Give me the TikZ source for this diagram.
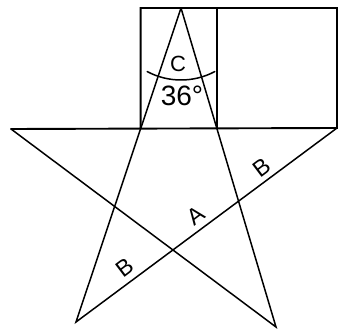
\documentclass[tikz,border=0pt]{standalone}
\usepackage{fontspec}
\setmainfont{Liberation Sans}

\begin{document}
\begin{tikzpicture}[x=1pt, y=-1pt,
    starline/.style={line width=1.5pt, line cap=round},
    boxline/.style={line width=1.9pt, line cap=round},
    marklabel/.style={font=\fontsize{22}{22}\selectfont, inner sep=0pt},
    sidelabel/.style={font=\fontsize{23}{23}\selectfont, inner sep=0pt, rotate=37}
]
\useasboundingbox (0,0) rectangle (340,331);

% points of the star
\coordinate (apex) at (181,8);
\coordinate (left) at (11,129);
\coordinate (right) at (337,128);
\coordinate (botl) at (76,322);
\coordinate (botr) at (276,327);
\coordinate (cutl) at (intersection of apex--botl and left--right);
\coordinate (cutr) at (intersection of apex--botr and left--right);

\node[marklabel] (angc) at (178,64) {C};
\node[marklabel, font=\fontsize{28}{28}\selectfont] (angval) at (182,96) {36°};
\node[sidelabel] (sideb1) at (262,168) {B};
\node[sidelabel] (sidea) at (196,216) {A};
\node[sidelabel] (sideb2) at (125,268) {B};

\draw[starline] (apex) -- (botl) -- (right);
\draw[starline] (left) -- (botr) -- (apex);
\draw[boxline] (left) -- (right) -- (right |- apex) -- (cutl |- apex) -- (cutl);
\draw[boxline] (cutr |- apex) -- (cutr);
\draw[starline] (apex) ++(242:72pt) arc[start angle=242, end angle=298, radius=72pt];

\end{tikzpicture}
\end{document}
